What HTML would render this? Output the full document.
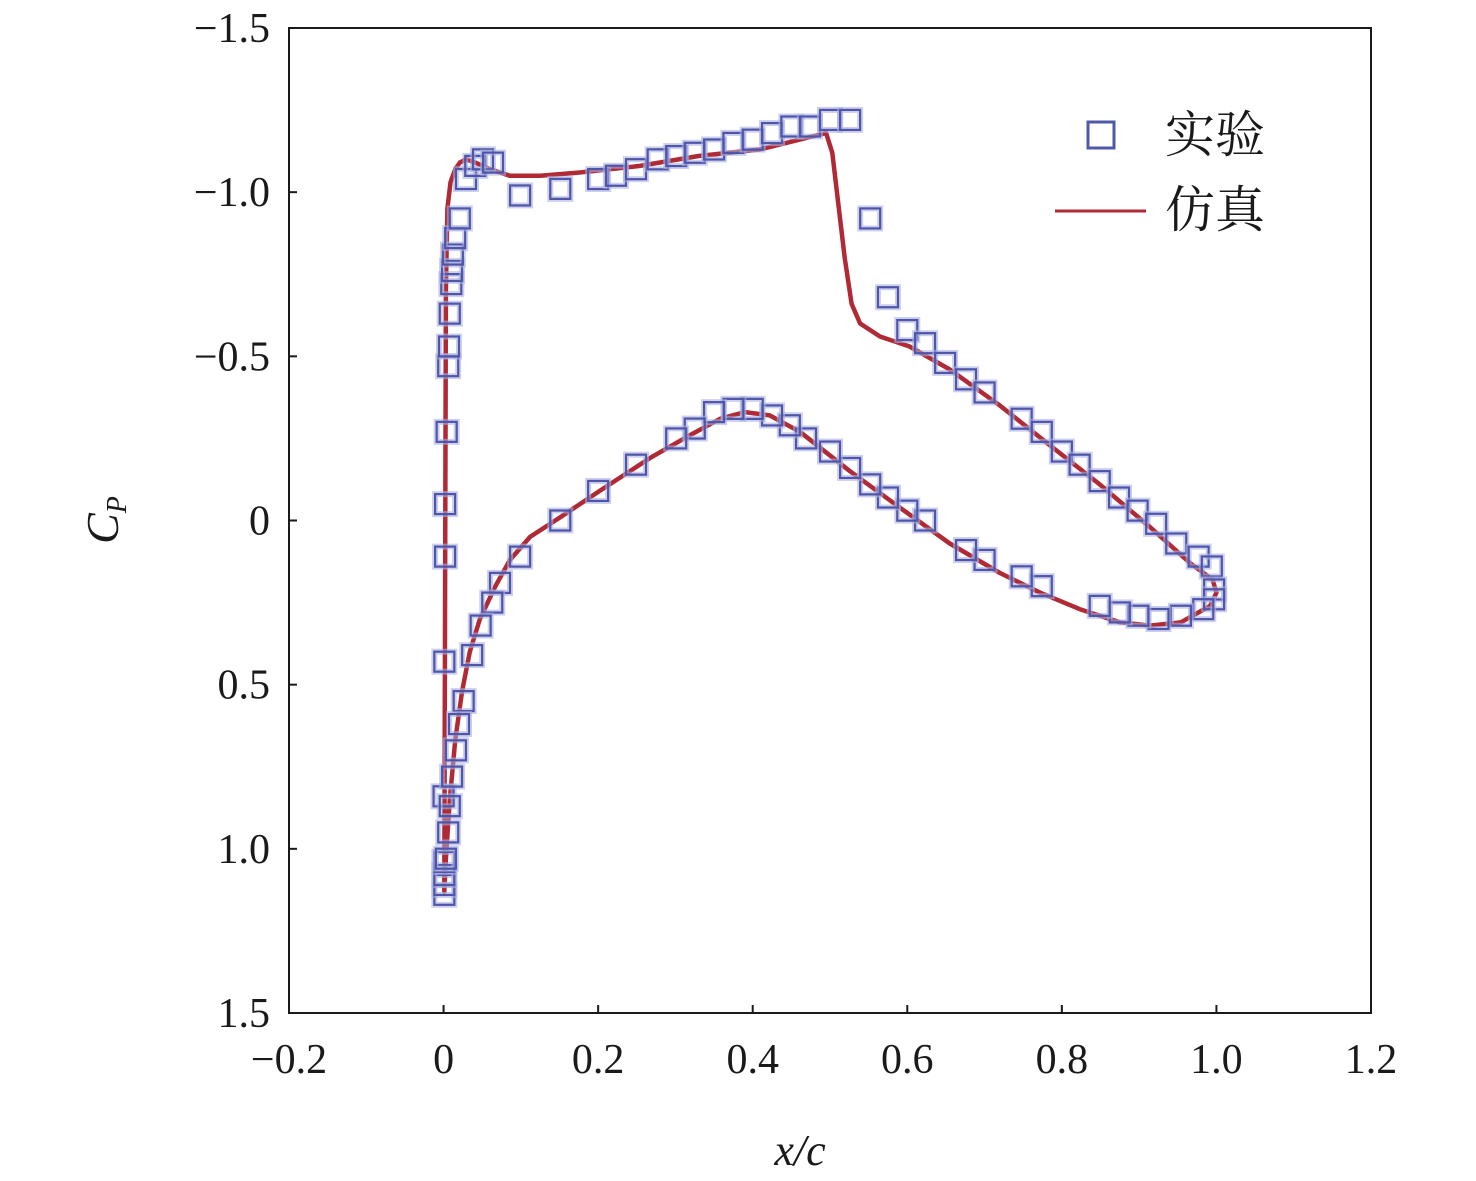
<!DOCTYPE html>
<html><head><meta charset="utf-8">
<style>
html,body{margin:0;padding:0;background:#fff;}
svg{display:block;}
</style></head>
<body>
<svg id="chart" width="1476" height="1181" viewBox="0 0 1476 1181" xmlns="http://www.w3.org/2000/svg">
<rect x="289" y="28" width="1082" height="985" fill="none" stroke="#1a1a1a" stroke-width="2"/>
<g id="axes"></g>
<g id="sim"></g>
<g id="exp"></g>
<text x="800" y="1165" text-anchor="middle" font-family="'Liberation Serif','Times New Roman',serif" style="font-family:'Liberation Serif','Times New Roman',serif" font-style="italic" font-size="44" fill="#1a1a1a">x/c</text>
<text transform="translate(118,520) rotate(-90)" text-anchor="middle" style="font-family:'Liberation Serif','Times New Roman',serif" font-style="italic" font-size="46" fill="#1a1a1a">C<tspan font-size="28" dy="8">P</tspan></text>
<g>
<rect x="1088" y="122" width="26" height="26" fill="none" stroke="#5058a8" stroke-width="3"/>
<text x="1165" y="152" style="font-family:'Noto Serif CJK SC',serif" font-size="50" fill="#1a1a1a">实验</text>
<line x1="1055" y1="211" x2="1146" y2="211" stroke="#b02a35" stroke-width="3"/>
<text x="1165" y="227" style="font-family:'Noto Serif CJK SC',serif" font-size="50" fill="#1a1a1a">仿真</text>
</g>
</svg>
<script>
const xTicks=[-0.2,0,0.2,0.4,0.6,0.8,1.0,1.2];
const xTickLabels=["\u22120.2","0","0.2","0.4","0.6","0.8","1.0","1.2"];
const yTicks=[-1.5,-1.0,-0.5,0,0.5,1.0,1.5];
const yTickLabels=["\u22121.5","\u22121.0","\u22120.5","0","0.5","1.0","1.5"];
const expX=[0.001,0.001,0.001,0.001,0,0.001,0.002,0.002,0.004,0.006,0.007,0.008,0.01,0.011,0.012,0.015,0.021,0.029,0.041,0.051,0.064,0.099,0.151,0.2,0.223,0.249,0.277,0.301,0.325,0.35,0.375,0.4,0.425,0.45,0.474,0.5,0.526,0.552,0.575,0.6,0.623,0.649,0.676,0.7,0.748,0.774,0.8,0.823,0.849,0.874,0.898,0.922,0.948,0.977,0.994,0.997,
0.997,0.983,0.954,0.925,0.899,0.875,0.849,0.774,0.748,0.7,0.676,0.623,0.6,0.575,0.552,0.526,0.5,0.469,0.448,0.425,0.4,0.375,0.35,0.325,0.301,0.249,0.2,0.151,0.099,0.073,0.063,0.048,0.037,0.026,0.02,0.016,0.011,0.008,0.006,0.003];
const expCp=[1.14,1.11,1.08,1.04,0.84,0.43,0.11,-0.05,-0.27,-0.47,-0.53,-0.63,-0.72,-0.76,-0.81,-0.86,-0.92,-1.04,-1.08,-1.10,-1.09,-0.99,-1.01,-1.04,-1.05,-1.07,-1.10,-1.11,-1.12,-1.13,-1.15,-1.16,-1.18,-1.20,-1.20,-1.22,-1.22,-0.92,-0.68,-0.58,-0.54,-0.48,-0.43,-0.39,-0.31,-0.27,-0.21,-0.17,-0.12,-0.07,-0.03,0.01,0.07,0.11,0.14,0.21,
0.24,0.27,0.29,0.30,0.29,0.28,0.26,0.20,0.17,0.12,0.09,0,-0.03,-0.07,-0.11,-0.16,-0.21,-0.25,-0.29,-0.32,-0.34,-0.34,-0.33,-0.28,-0.25,-0.17,-0.09,0,0.11,0.19,0.25,0.32,0.41,0.55,0.62,0.70,0.78,0.87,0.95,1.03];
const simX=[0.001,0.003,0.005,0.009,0.015,0.021,0.029,0.041,0.06,0.086,0.125,0.176,0.254,0.33,0.409,0.495,0.503,0.51,0.519,0.528,0.539,0.565,0.603,0.655,0.72,0.784,0.849,0.914,0.966,0.995,1.0,0.992,0.954,0.914,0.875,0.823,0.772,0.72,0.655,0.59,0.526,0.461,0.422,0.39,0.358,0.319,0.267,0.202,0.151,0.112,0.086,0.067,0.047,0.034,0.024,0.015,0.008,0.003,0.001];
const simCp=[1.13,-0.7,-0.95,-1.03,-1.07,-1.09,-1.10,-1.09,-1.07,-1.05,-1.05,-1.06,-1.08,-1.11,-1.13,-1.18,-1.12,-0.98,-0.80,-0.66,-0.60,-0.56,-0.53,-0.46,-0.35,-0.23,-0.11,0.02,0.13,0.18,0.22,0.26,0.31,0.32,0.31,0.27,0.22,0.16,0.07,-0.04,-0.15,-0.27,-0.32,-0.33,-0.31,-0.26,-0.19,-0.09,-0.01,0.05,0.12,0.20,0.30,0.40,0.52,0.67,0.85,1.03,1.13];
const NS="http://www.w3.org/2000/svg";
const X0=289,X1=1371,Y0=28,Y1=1013;
const FONT="'Liberation Serif','Times New Roman','DejaVu Serif',serif";
function sx(v){return X0+(v+0.2)/1.4*(X1-X0);}
function sy(v){return Y0+(v+1.5)/3*(Y1-Y0);}
function mk(t,a,p){const e=document.createElementNS(NS,t);for(const k in a)e.setAttribute(k,a[k]);p.appendChild(e);return e;}
const ax=document.getElementById('axes');
xTicks.forEach((v,i)=>{
  const l=mk('line',{x1:sx(v),x2:sx(v),y1:Y1,y2:Y1-8,stroke:'#1a1a1a','stroke-width':2},ax);
  
  
  const t=mk('text',{x:sx(v),y:1073,'text-anchor':'middle','font-size':42,fill:'#1a1a1a'},ax);
  t.style.fontFamily=FONT;
  t.textContent=xTickLabels[i];
  
  
});
yTicks.forEach((v,i)=>{
  const l=mk('line',{x1:X0,x2:X0+8,y1:sy(v),y2:sy(v),stroke:'#1a1a1a','stroke-width':2},ax);
  
  
  const t=mk('text',{x:270,y:sy(v)+14,'text-anchor':'end','font-size':42,fill:'#1a1a1a'},ax);
  t.style.fontFamily=FONT;
  t.textContent=yTickLabels[i];
  
  
});
const sg=document.getElementById('sim');
const pts=simX.map((x,i)=>sx(x).toFixed(1)+','+sy(simCp[i]).toFixed(1)).join(' ');
const pl=mk('polyline',{points:pts,fill:'none',stroke:'#b02a35','stroke-width':4.5,'stroke-linejoin':'round','stroke-linecap':'round'},sg);


const eg=document.getElementById('exp');
expX.forEach((x,i)=>{
  const cx=sx(x),cy=sy(expCp[i]);
  const h=mk('rect',{x:cx-10,y:cy-10,width:20,height:20,fill:'none',stroke:'#aab0e0','stroke-width':6,opacity:0.6},eg);
  
  
  const r=mk('rect',{x:cx-10,y:cy-10,width:20,height:20,fill:'none',stroke:'#4e55aa','stroke-width':2.2},eg);
  
  
});
</script>
</body></html>
